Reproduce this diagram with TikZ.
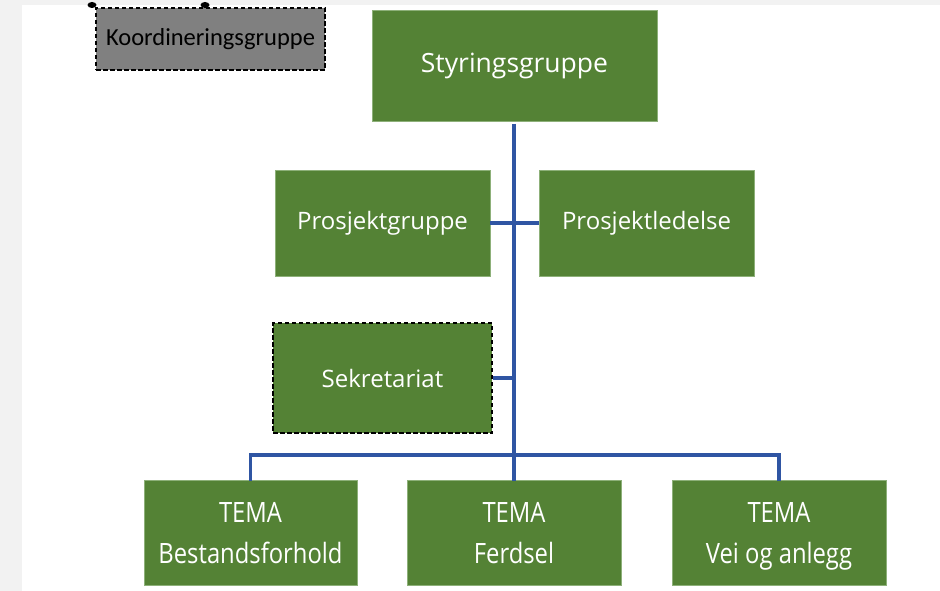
\documentclass[tikz,border=0pt]{standalone}
\usepackage{fontspec}
\setmainfont{Open Sans}
\newfontfamily\calfont{Carlito}
\definecolor{boxgreen}{HTML}{548235}
\definecolor{edgegreen}{HTML}{8DB079}
\definecolor{linkblue}{HTML}{2F55A3}
\definecolor{koordgray}{HTML}{808080}
\definecolor{pagegray}{HTML}{F2F2F2}
\newcommand{\tlfirst}[1]{\scalebox{0.85}[1]{\rule{0pt}{27pt}#1}}
\newcommand{\tl}[1]{\scalebox{0.85}[1]{\vphantom{Bg}#1}}
\begin{document}
\begin{tikzpicture}[x=1pt,y=-1pt,
  gbox/.style={rectangle, fill=boxgreen, draw=edgegreen, line width=0.7pt, text=white, inner sep=0pt, align=center},
  dashbox/.style={rectangle, draw=black, line width=2pt, dash pattern=on 4.5pt off 2.5pt, inner sep=0pt, align=center},
  link/.style={draw=linkblue, line width=3.2pt},
  midtext/.style={font=\fontsize{24}{28}\selectfont},
  temtext/.style={font=\fontsize{28}{41}\selectfont}
]
\useasboundingbox (0,0) rectangle (940,591);
\fill[pagegray] (0,0) rectangle (940,591);
\fill[white] (22,5) rectangle (940,591);

% small marks at the top edge
\fill[black] (92,5) ellipse (4.5pt and 3pt);
\fill[black] (205,5) ellipse (4.5pt and 3pt);

\node[dashbox, fill=koordgray, minimum width=229pt, minimum height=62pt, font=\calfont\fontsize{24.5}{28}\selectfont] (koord) at (210.5,39) {Koordineringsgruppe};

\node[gbox, minimum width=285pt, minimum height=111pt, font=\fontsize{26.5}{30}\selectfont] (styr) at (514.5,65.5) {Styringsgruppe};

\node[gbox, midtext, minimum width=215pt, minimum height=106pt] (pg) at (382.5,223) {Prosjektgruppe};
\node[gbox, midtext, minimum width=215pt, minimum height=106pt] (pl) at (646.5,223) {Prosjektledelse};

\node[gbox, dashbox, fill=boxgreen, text=white, midtext, minimum width=219pt, minimum height=110pt] (sek) at (382.5,378) {Sekretariat};

\node[gbox, temtext, minimum width=213pt, minimum height=105pt] (t1) at (250.5,532.5) {\tlfirst{TEMA}\\\tl{Bestandsforhold}};
\node[gbox, temtext, minimum width=214pt, minimum height=105pt] (t2) at (514,532.5) {\tlfirst{TEMA}\\\tl{Ferdsel}};
\node[gbox, temtext, minimum width=214pt, minimum height=105pt] (t3) at (779,532.5) {\tlfirst{TEMA}\\\tl{Vei og anlegg}};

\coordinate (bus) at (514,455);
\coordinate (top) at (514,124);

\draw[link] (top) -- (bus);
\draw[link] (pg.east) -- (pl.west);
\draw[link] (sek.east) -- (sek.east -| bus);
\draw[link] ([yshift=-1.5pt]t1.north) |- (bus) -| ([yshift=-1.5pt]t3.north);
\draw[link] (bus) -- ([yshift=-1.5pt]t2.north);
\end{tikzpicture}
\end{document}
